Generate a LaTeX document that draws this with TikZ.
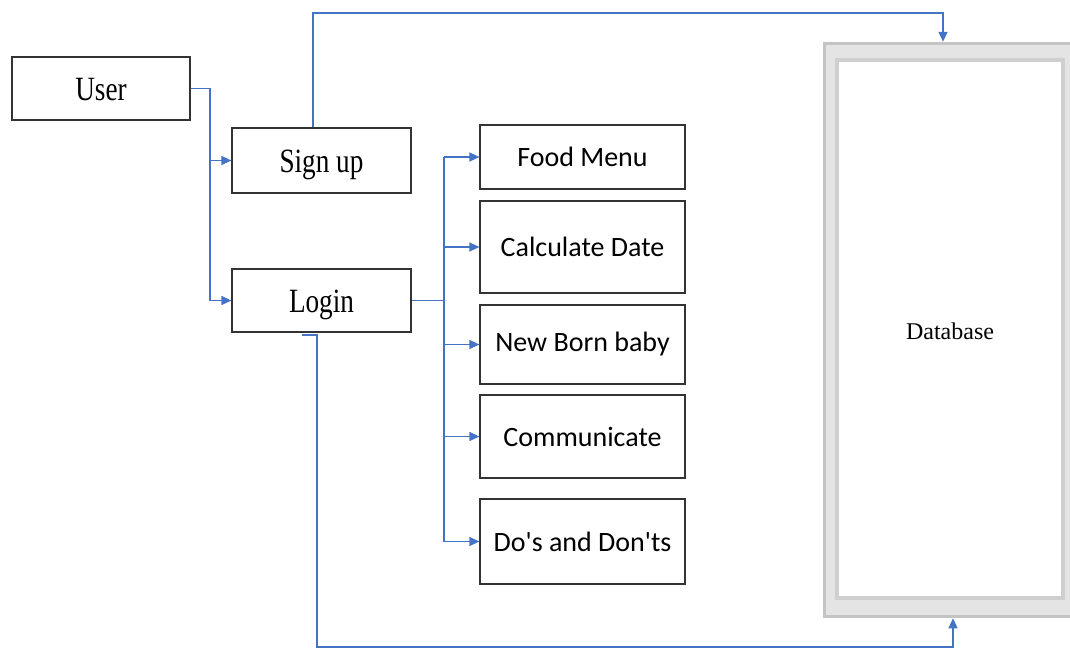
\documentclass[tikz,border=0pt]{standalone}
\usepackage{fontspec}
\setmainfont{Liberation Serif}
\newfontfamily\tallserif[FakeStretch=0.8]{Liberation Serif}
\newfontfamily\carl{Carlito}
\usetikzlibrary{arrows.meta}
\definecolor{lineblue}{HTML}{4472C4}
\definecolor{frameout}{HTML}{C4C4C4}
\definecolor{frameband}{HTML}{E4E4E4}
\definecolor{framein}{HTML}{CFCFCF}
\newcommand{\basedown}[2]{\raisebox{-#1}[0pt][0pt]{#2}}
\begin{document}
\begin{tikzpicture}[x=1pt,y=-1pt,
  box/.style={draw=black!80,line width=1.2pt,fill=white,inner sep=0pt},
  leftbox/.style={box,font=\tallserif\fontsize{34}{40}\selectfont},
  rightbox/.style={box,minimum width=205pt,font=\carl\fontsize{28}{32}\selectfont},
  conn/.style={draw=lineblue,line width=1.3pt,-{Triangle[length=10pt,width=9pt]}},
  plain/.style={draw=lineblue,line width=1.3pt}]
\useasboundingbox (0,0) rectangle (1070,648);
% database frame
\node[fill=frameband,draw=frameout,line width=3.5pt,minimum width=254pt,minimum height=573pt,inner sep=0pt] (db) at (951.5,330) {};
\node[fill=white,draw=framein,line width=3.5pt,minimum width=226pt,minimum height=538pt,inner sep=0pt,font=\fontsize{24}{28}\selectfont] (dbin) at (950,329) {\basedown{10pt}{Database}};
% left boxes
\node[leftbox,minimum width=178pt,minimum height=63pt] (user) at (101,88.5) {\basedown{12pt}{User}};
\node[leftbox,minimum width=179pt,minimum height=65pt] (signup) at (321.5,160.5) {\basedown{11.5pt}{Sign up}};
\node[leftbox,minimum width=179pt,minimum height=63pt] (login) at (321.5,300.5) {\basedown{11.5pt}{Login}};
% right boxes
\node[rightbox,minimum height=64pt] (food) at (582.5,157) {Food Menu};
\node[rightbox,minimum height=92pt] (calc) at (582.5,247) {Calculate Date};
\node[rightbox,minimum height=79pt] (newborn) at (582.5,344.5) {New Born baby};
\node[rightbox,minimum height=83pt] (comm) at (582.5,436.5) {Communicate};
\node[rightbox,minimum height=85pt] (dos) at (582.5,541.5) {Do's and Don'ts};
% helper coordinates
\coordinate (ubus) at (210,0);
\coordinate (bus) at (444,0);
\coordinate (s1) at (313,0);
\coordinate (topy) at (0,13);
\coordinate (d1) at (943,0);
\coordinate (l0) at (302,335);
\coordinate (l1) at (317,0);
\coordinate (boty) at (0,647);
\coordinate (d2) at (953,0);
% connectors
\draw[conn] (user.east) -- (user.east -| ubus) |- (signup.west);
\draw[conn] (user.east) -- (user.east -| ubus) |- (login.west);
\draw[conn] (signup.north -| s1) -- (topy -| s1) -- (topy -| d1) -- (db.north -| d1);
\draw[conn] (l0) -- (l0 -| l1) -- (boty -| l1) -- (boty -| d2) -- (db.south -| d2);
\draw[plain] (login.east) -- (login.east -| bus);
\draw[plain] (food.west -| bus) -- (dos.west -| bus);
\foreach \t in {food,calc,newborn,comm,dos}
  \draw[conn] (\t.west -| bus) -- (\t.west);
\end{tikzpicture}
\end{document}
